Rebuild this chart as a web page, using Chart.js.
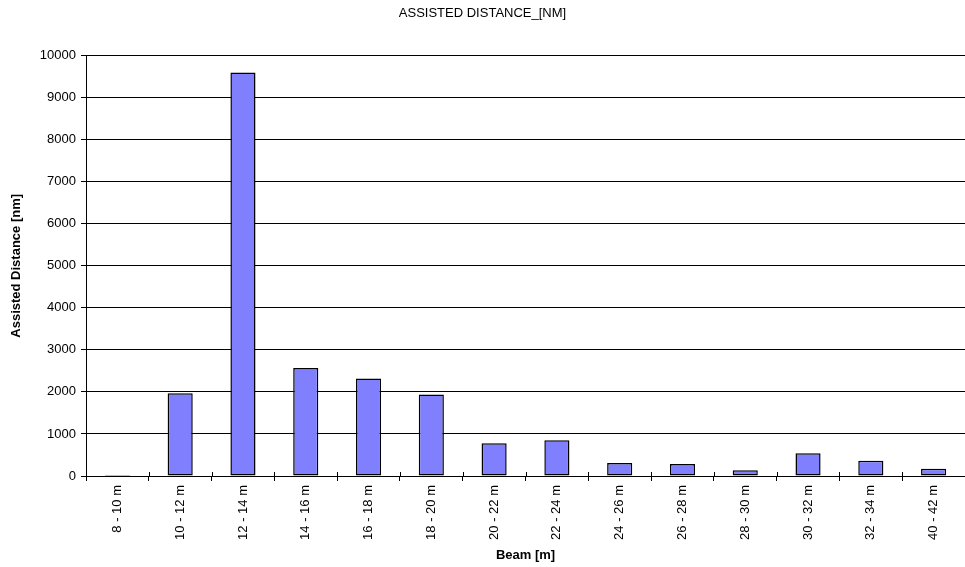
<!DOCTYPE html>
<html><head><meta charset="utf-8">
<script src="https://cdn.jsdelivr.net/npm/chart.js@4/dist/chart.umd.min.js"></script>
<style>html,body{margin:0;padding:0;background:#fff}#w{width:965px;height:567px}</style>
</head><body><div id="w"><canvas id="c"></canvas></div>
<script>
const categories = ["8 - 10 m","10 - 12 m","12 - 14 m","14 - 16 m","16 - 18 m","18 - 20 m","20 - 22 m","22 - 24 m","24 - 26 m","26 - 28 m","28 - 30 m","30 - 32 m","32 - 34 m","40 - 42 m"];
const assistedDistance = [25, 1970, 9600, 2570, 2320, 1940, 780, 850, 310, 285, 135, 540, 360, 175];
const yTicks = [0,1000,2000,3000,4000,5000,6000,7000,8000,9000,10000];
const FONT = "'Liberation Sans', Arial, sans-serif";

const upTicks = {
  id: 'upTicks',
  afterDraw(chart) {
    const x = chart.scales.x, a = chart.chartArea, ctx = chart.ctx;
    const n = categories.length;
    ctx.save(); ctx.strokeStyle = '#000'; ctx.lineWidth = 1;
    for (let i = 0; i <= n; i++) {
      let px;
      if (i === 0) px = a.left; else if (i === n) px = a.right;
      else px = (x.getPixelForValue(i - 1) + x.getPixelForValue(i)) / 2;
      px = Math.round(px) + 0.5;
      ctx.beginPath(); ctx.moveTo(px, a.bottom - 4); ctx.lineTo(px, a.bottom); ctx.stroke();
    }
    ctx.restore();
  }
};

new Chart(document.getElementById('c'), {
  type: 'bar',
  data: { labels: categories, datasets: [{ data: assistedDistance, backgroundColor: '#8080FF', borderColor: '#000', borderWidth: 1.5, borderSkipped: false, barPercentage: 0.4, categoryPercentage: 1 }] },
  options: {
    responsive: true, maintainAspectRatio: false, animation: false,
    layout: { padding: { left: 0, right: 0, top: 0, bottom: 0 } },
    plugins: {
      legend: { display: false }, tooltip: { enabled: false },
      title: { display: true, text: 'ASSISTED DISTANCE_[NM]', color: '#000', font: { family: FONT, size: 13, weight: 'normal' }, padding: { top: 6, bottom: 34 } }
    },
    scales: {
      x: {
        offset: true,
        grid: { display: true, offset: true, drawOnChartArea: false, drawTicks: true, tickLength: 5, color: '#000' },
        border: { display: true, color: '#000' },
        ticks: { minRotation: 90, maxRotation: 90, color: '#000', font: { family: FONT, size: 13 }, padding: 4 },
        title: { display: true, text: 'Beam [m]', color: '#000', font: { family: FONT, size: 13, weight: 'bold' }, padding: { top: 0, bottom: 4 } },
        afterFit(s) { s.height = 91; }
      },
      y: {
        min: 0, max: 10000,
        afterBuildTicks(s) { s.ticks = yTicks.map(v => ({ value: v })); },
        grid: { color: '#000', drawTicks: true, tickLength: 5 },
        border: { display: true, color: '#000' },
        ticks: { color: '#000', font: { family: FONT, size: 13 }, padding: 5, callback: v => String(v) },
        title: { display: true, text: 'Assisted Distance [nm]', color: '#000', font: { family: FONT, size: 13, weight: 'bold' }, padding: { top: 9, bottom: 4 } },
        afterFit(s) { s.width = 86; }
      }
    }
  },
  plugins: [upTicks]
});
</script></body></html>
